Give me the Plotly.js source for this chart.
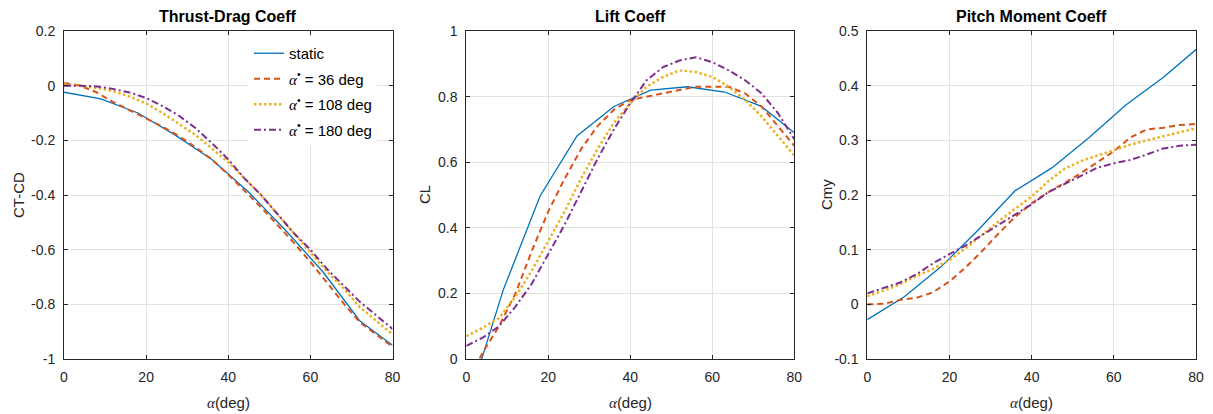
<!DOCTYPE html>
<html><head><meta charset="utf-8">
<script src="https://cdn.plot.ly/plotly-3.0.1.min.js"></script>
<style>html,body{margin:0;padding:0;background:#fff}#chart{width:1213px;height:414px}</style>
</head><body><div id="chart"></div>
<script>
// ---- data ----
const alphaStatic = [0, 9, 18, 27, 36, 45, 54, 63, 72, 80];
const alphaDyn = [0, 4, 8, 12, 16, 20, 24, 28, 32, 36, 40, 44, 48, 52, 56, 60, 64, 68, 72, 76, 80];

const thrustStatic = [-0.024, -0.048, -0.10, -0.18, -0.27, -0.39, -0.53, -0.68, -0.86, -0.95];
const thrust36  = [0.01, 0.0, -0.025, -0.06, -0.09, -0.12, -0.15, -0.185, -0.225, -0.27, -0.325, -0.385, -0.445, -0.51, -0.575, -0.645, -0.72, -0.795, -0.865, -0.91, -0.955];
const thrust108 = [0.005, 0.0, -0.008, -0.02, -0.04, -0.065, -0.10, -0.14, -0.18, -0.23, -0.28, -0.34, -0.40, -0.47, -0.54, -0.61, -0.68, -0.74, -0.81, -0.86, -0.91];
const thrust180 = [0.0, 0.0, -0.003, -0.012, -0.025, -0.045, -0.075, -0.11, -0.155, -0.21, -0.27, -0.34, -0.40, -0.47, -0.54, -0.60, -0.67, -0.73, -0.79, -0.84, -0.89];

const liftStatic = [-0.15, 0.21, 0.497, 0.68, 0.77, 0.82, 0.83, 0.814, 0.77, 0.69];
const lift36  = [-0.08, 0.02, 0.10, 0.20, 0.33, 0.45, 0.55, 0.64, 0.71, 0.76, 0.79, 0.80, 0.81, 0.82, 0.83, 0.83, 0.83, 0.81, 0.77, 0.71, 0.65];
const lift108 = [0.07, 0.095, 0.125, 0.19, 0.27, 0.36, 0.45, 0.55, 0.64, 0.72, 0.78, 0.83, 0.86, 0.88, 0.875, 0.86, 0.83, 0.79, 0.74, 0.68, 0.62];
const lift180 = [0.04, 0.065, 0.10, 0.16, 0.23, 0.32, 0.41, 0.51, 0.61, 0.70, 0.78, 0.85, 0.89, 0.91, 0.92, 0.905, 0.88, 0.85, 0.81, 0.75, 0.67];

const pitchStatic = [-0.028, 0.014, 0.069, 0.136, 0.208, 0.25, 0.305, 0.365, 0.415, 0.466];
const pitch36  = [0.0, 0.001, 0.008, 0.012, 0.022, 0.042, 0.068, 0.098, 0.13, 0.16, 0.185, 0.205, 0.222, 0.24, 0.26, 0.28, 0.305, 0.32, 0.323, 0.328, 0.33];
const pitch108 = [0.015, 0.025, 0.037, 0.052, 0.065, 0.081, 0.103, 0.128, 0.152, 0.175, 0.197, 0.225, 0.248, 0.262, 0.272, 0.282, 0.292, 0.30, 0.307, 0.315, 0.322];
const pitch180 = [0.02, 0.03, 0.04, 0.055, 0.075, 0.092, 0.108, 0.127, 0.146, 0.164, 0.183, 0.205, 0.22, 0.235, 0.25, 0.258, 0.264, 0.274, 0.285, 0.29, 0.292];

const xTickVals = [0, 20, 40, 60, 80];
const xTickText = ['0', '20', '40', '60', '80'];
const thrustTickVals = [0.2, 0, -0.2, -0.4, -0.6, -0.8, -1];
const thrustTickText = ['0.2', '0', '-0.2', '-0.4', '-0.6', '-0.8', '-1'];
const liftTickVals = [0, 0.2, 0.4, 0.6, 0.8, 1];
const liftTickText = ['0', '0.2', '0.4', '0.6', '0.8', '1'];
const pitchTickVals = [-0.1, 0, 0.1, 0.2, 0.3, 0.4, 0.5];
const pitchTickText = ['-0.1', '0', '0.1', '0.2', '0.3', '0.4', '0.5'];

const panelTitles = ['Thrust-Drag Coeff', 'Lift Coeff', 'Pitch Moment Coeff'];
const yTitles = ['CT-CD', 'CL', 'Cmy'];
const A = "<span style=\"font-family:'Liberation Serif'\"><i>α</i></span>";
const seriesNames = ['static', A + '<sup>•</sup> = 36 deg', A + '<sup>•</sup> = 108 deg', A + '<sup>•</sup> = 180 deg'];

// ---- styling ----
const W = 1213, H = 414;
const M = {l: 64, r: 17, t: 31, b: 55};
const PW = W - M.l - M.r, PH = H - M.t - M.b;
const axL = [64, 466.3, 867.3], axR = [392.5, 794.3, 1196];
const axTop = 30.7, axBot = 359.3;
const px2x = p => (p - M.l) / PW;
const px2y = p => (H - M.b - p) / PH;

const colors = ['#0072BD', '#D95319', '#EDB120', '#7E2F8E'];
const lineStyles = [
  {color: colors[0], width: 1.3, dash: 'solid'},
  {color: colors[1], width: 2, dash: '6px,4px'},
  {color: colors[2], width: 2.5, dash: '2.5px,2.5px'},
  {color: colors[3], width: 2, dash: '7px,3px,2px,3px'}
];
const FONT = 'Liberation Sans, Arial, sans-serif';
const TXT = '#262626';

const ys = [
  [thrustStatic, thrust36, thrust108, thrust180],
  [liftStatic, lift36, lift108, lift180],
  [pitchStatic, pitch36, pitch108, pitch180]
];
const traces = [];
for (let p = 0; p < 3; p++) {
  for (let s = 0; s < 4; s++) {
    traces.push({
      type: 'scatter', mode: 'lines',
      x: s === 0 ? alphaStatic : alphaDyn,
      y: ys[p][s],
      name: seriesNames[s],
      legendgroup: 'g' + s,
      showlegend: p === 0,
      line: lineStyles[s],
      xaxis: p === 0 ? 'x' : 'x' + (p + 1),
      yaxis: p === 0 ? 'y' : 'y' + (p + 1),
      hoverinfo: 'skip'
    });
  }
}

function common() {
  return {
    showline: true, linecolor: TXT, linewidth: 1, mirror: 'ticks',
    ticks: 'inside', ticklen: 4, tickcolor: TXT, ticklabelstandoff: 5,
    showgrid: true, gridcolor: '#e2e2e2', gridwidth: 1, zeroline: false,
    tickfont: {family: FONT, size: 14, color: TXT}, automargin: false
  };
}
function xax(i) {
  return Object.assign(common(), {
    domain: [px2x(axL[i]), px2x(axR[i])], range: [0, 80], anchor: i === 0 ? 'y' : 'y' + (i + 1),
    tickvals: xTickVals, ticktext: xTickText
  });
}
function yax(i, range, vals, text) {
  return Object.assign(common(), {
    domain: [px2y(axBot), px2y(axTop)], range: range, anchor: i === 0 ? 'x' : 'x' + (i + 1),
    tickvals: vals, ticktext: text
  });
}

const annotations = [];
const yTitleX = [18, 424, 826];
for (let i = 0; i < 3; i++) {
  const cx = (axL[i] + axR[i]) / 2;
  annotations.push({xref: 'paper', yref: 'paper', x: px2x(cx), y: px2y(17), text: '<b>' + panelTitles[i] + '</b>',
    showarrow: false, xanchor: 'center', yanchor: 'middle', font: {family: FONT, size: 16, color: '#000'}});
  annotations.push({xref: 'paper', yref: 'paper', x: px2x(cx), y: px2y(402), text: A + '(deg)',
    showarrow: false, xanchor: 'center', yanchor: 'middle', font: {family: FONT, size: 15, color: TXT}});
  annotations.push({xref: 'paper', yref: 'paper', x: px2x(yTitleX[i]), y: px2y((axTop + axBot) / 2), text: yTitles[i],
    textangle: -90, showarrow: false, xanchor: 'center', yanchor: 'middle', font: {family: FONT, size: 15, color: TXT}});
}

const layout = {
  width: W, height: H, margin: M, paper_bgcolor: '#fff', plot_bgcolor: '#fff',
  font: {family: FONT, size: 15, color: TXT},
  xaxis: xax(0), xaxis2: xax(1), xaxis3: xax(2),
  yaxis: yax(0, [-1, 0.2], thrustTickVals, thrustTickText),
  yaxis2: yax(1, [0, 1], liftTickVals, liftTickText),
  yaxis3: yax(2, [-0.1, 0.5], pitchTickVals, pitchTickText),
  showlegend: true,
  legend: {x: px2x(249), y: px2y(37), xanchor: 'left', yanchor: 'top', bgcolor: '#fff', borderwidth: 0,
    font: {family: FONT, size: 15, color: '#000'}, tracegroupgap: 3, traceorder: 'grouped'},
  annotations: annotations
};
Plotly.newPlot('chart', traces, layout, {staticPlot: true, displayModeBar: false});
</script></body></html>
